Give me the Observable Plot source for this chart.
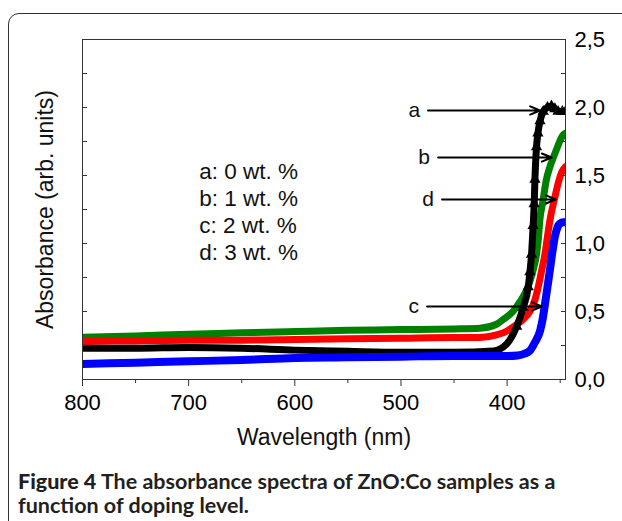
<!DOCTYPE html>
<html><head><meta charset="utf-8">
<script src="https://cdn.jsdelivr.net/npm/d3@7"></script>
<script src="https://cdn.jsdelivr.net/npm/@observablehq/plot@0.6"></script>
<style>
body{margin:0;background:#fff;}
#wrap{position:relative;width:622px;height:521px;overflow:hidden;background:#fff;}
#box{position:absolute;left:8px;top:13px;width:650px;height:560px;border:1.5px solid #333;border-radius:11px;box-sizing:border-box;}
#chart{position:absolute;left:0;top:0;}
#caption{position:absolute;left:18px;top:469px;width:610px;font-family:Lato, sans-serif;font-weight:700;font-size:21.5px;line-height:24px;color:#231f20;white-space:nowrap;}
#caption b{font-weight:900;}
</style></head><body>
<div id="wrap"><div id="box"></div><div id="chart"></div>
<div id="caption"><b>Figure 4</b> The absorbance spectra of ZnO:Co samples as a<br>function of doping level.</div></div>
<script>
// ---- data (wavelength nm, absorbance) ----
const blackWl  = [800,750,700,650,600,550,500,450,413,400.5,391,384.8,380.1,378.5,377,375.5,374.5,373.8,372.3,371,369,366,362,358.2,355,352,348,345];
const blackAbs = [0.23,0.23,0.236,0.23,0.216,0.207,0.20,0.20,0.21,0.26,0.39,0.53,0.68,0.79,0.92,1.13,1.29,1.47,1.71,1.81,1.90,1.97,2.00,2.01,1.99,1.97,1.97,1.97];

const greenWl  = [800,750,700,650,600,550,500,450,425.6,410,403,394.5,388,380.4,376,372.3,370.5,369.2,366.3,363,360,356.6,353,350,347,345];
const greenAbs = [0.31,0.32,0.333,0.343,0.353,0.362,0.367,0.372,0.377,0.406,0.445,0.50,0.57,0.68,0.79,0.92,1.04,1.17,1.31,1.47,1.555,1.63,1.70,1.76,1.80,1.81];

const redWl  = [800,750,700,650,600,550,500,450,425.6,410,400,394.3,386,378.6,374,370.7,367.5,364.4,362,359.7,355,352,348.8,345];
const redAbs = [0.28,0.284,0.289,0.289,0.294,0.299,0.304,0.309,0.309,0.328,0.357,0.387,0.435,0.50,0.58,0.68,0.80,0.92,1.05,1.17,1.34,1.44,1.52,1.565];

const blueWl  = [800,750,700,650,600,550,500,450,413,400,390,383,378.6,374,369,366.5,364.4,362,359.7,357.5,355,352.5,350.3,347,345];
const blueAbs = [0.114,0.124,0.134,0.143,0.158,0.163,0.168,0.173,0.173,0.173,0.177,0.192,0.211,0.27,0.357,0.445,0.55,0.68,0.805,0.93,1.05,1.12,1.146,1.156,1.156];

const legendLines = ["a: 0 wt. %", "b: 1 wt. %", "c: 2 wt. %", "d: 3 wt. %"];
const legendAbs   = [1.529, 1.331, 1.132, 0.934];
const legendWl    = 690;

const arrowLabels = ["a", "b", "d", "c"];
const arrowAbs    = [1.978, 1.632, 1.324, 0.537];
const arrowFromWl = [474.5, 465, 461.3, 475.4];
const arrowToWl   = [369, 358, 354.1, 367.3];
const labelWl     = [482, 472.6, 468.9, 483];

const xMajor = [800, 700, 600, 500, 400];
const xMinor = [750, 650, 550, 450, 350];
const yMajor = [0, 0.5, 1, 1.5, 2, 2.5];
const yAll   = [0, 0.25, 0.5, 0.75, 1, 1.25, 1.5, 1.75, 2, 2.25, 2.5];

const toRows = (w, a) => w.map((d, i) => ({w: d, a: a[i]}));
const black = toRows(blackWl, blackAbs);
const green = toRows(greenWl, greenAbs);
const red = toRows(redWl, redAbs);
const blue = toRows(blueWl, blueAbs);
const legend = legendLines.map((t, i) => ({t, w: legendWl, a: legendAbs[i]}));
const arrows = arrowLabels.map((t, i) => ({t, a: arrowAbs[i], w1: arrowFromWl[i], w2: arrowToWl[i], wl: labelWl[i]}));

const fmt = d => d.toFixed(1).replace(".", ",");

const chart = Plot.plot({
  width: 622,
  height: 460,
  marginLeft: 82,
  marginRight: 57,
  marginTop: 39,
  marginBottom: 81,
  style: {fontFamily: "'Liberation Sans', Arial, sans-serif", background: "transparent", color: "#000"},
  x: {domain: [800, 345]},
  y: {domain: [0, 2.5]},
  marks: [
    Plot.line(green, {x: "w", y: "a", stroke: "#008000", strokeWidth: 7, curve: "monotone-x", clip: true}),
    Plot.line(red, {x: "w", y: "a", stroke: "#ff0000", strokeWidth: 7, curve: "monotone-x", clip: true}),
    Plot.line(black, {x: "w", y: "a", stroke: "#000", strokeWidth: 7, curve: "monotone-x", clip: true}),
    Plot.dot(black, {filter: d => d.a > 0.3, x: "w", y: "a", symbol: "triangle", r: 4.2, fill: "#000", clip: true}),
    Plot.line(blue, {x: "w", y: "a", stroke: "#0000ff", strokeWidth: 8, curve: "monotone-x", clip: true}),
    Plot.frame({stroke: "#333"}),
    // bottom axis
    Plot.axisX({anchor: "bottom", ticks: xMajor, tickSize: 7, tickPadding: 8, fontSize: 22, label: null, stroke: "#333"}),
    Plot.axisX({anchor: "bottom", ticks: xMinor, tickSize: 4, fill: "none", label: null, stroke: "#333"}),
    // right axis labels + inward ticks
    Plot.axisY({anchor: "right", ticks: yMajor, tickSize: 0, tickPadding: 9, fontSize: 22, tickFormat: fmt, label: null}),
    Plot.axisY({anchor: "right", ticks: yAll, tickSize: 5, dx: -5, fill: "none", label: null, stroke: "#333"}),
    Plot.axisY({anchor: "left", ticks: yAll, tickSize: 5, dx: 5, fill: "none", label: null, stroke: "#333"}),
    // axis titles
    Plot.text(["Wavelength (nm)"], {frameAnchor: "bottom", dy: 65, fontSize: 23, fill: "#111"}),
    Plot.text(["Absorbance (arb. units)"], {frameAnchor: "left", textAnchor: "middle", dx: -37, rotate: -90, fontSize: 23, fill: "#111"}),
    // legend text
    Plot.text(legend, {x: "w", y: "a", text: "t", textAnchor: "start", fontSize: 22.5, fill: "#111"}),
    // arrows + labels
    Plot.arrow(arrows, {x1: "w1", x2: "w2", y1: "a", y2: "a", stroke: "#000", strokeWidth: 2, headLength: 8, headAngle: 45}),
    Plot.text(arrows, {x: "wl", y: "a", text: "t", textAnchor: "end", fontSize: 21, fill: "#111"})
  ]
});
document.getElementById("chart").appendChild(chart);
</script>
</body></html>
